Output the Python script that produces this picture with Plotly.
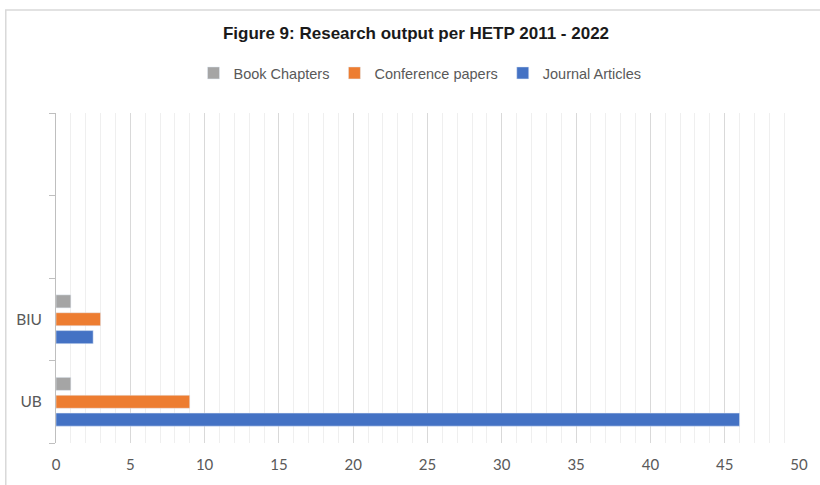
import plotly.graph_objects as go

# Research output per HETP, 2011 - 2022
categories = ["UB", "BIU"]
book_chapters = [1, 1]
conference_papers = [9, 3]
journal_articles = [46, 2.5]

x_ticks = [0, 5, 10, 15, 20, 25, 30, 35, 40, 45, 50]

cat_pos = list(range(len(categories)))

fig = go.Figure()
# first trace sits at the bottom of each group
fig.add_trace(go.Bar(y=cat_pos, x=journal_articles, name="Journal Articles",
                     orientation="h", marker_color="#4472C4"))
fig.add_trace(go.Bar(y=cat_pos, x=conference_papers, name="Conference papers",
                     orientation="h", marker_color="#ED7D31"))
fig.add_trace(go.Bar(y=cat_pos, x=book_chapters, name="Book Chapters",
                     orientation="h", marker_color="#A5A5A5"))

L, R, T, B = 56, 17, 113, 40
W, H = 820, 485
pw, ph = W - L - R, H - T - B

fig.update_layout(
    width=W, height=H,
    margin=dict(l=L, r=R, t=T, b=B),
    paper_bgcolor="white", plot_bgcolor="white",
    barmode="group", bargap=0.35, bargroupgap=0.27,
    title=dict(text="<b>Figure 9: Research output per HETP 2011 - 2022</b>",
               x=0.5 + 6 / W, xanchor="center", xref="container", y=1 - 33 / H, yanchor="middle",
               font=dict(family="Liberation Sans, Arial", size=17, color="#1a1a1a")),
    legend=dict(orientation="h", x=0.5 + 10 / W, xanchor="center", xref="container",
                y=1 - 73 / H, yanchor="middle", yref="container",
                traceorder="reversed", itemwidth=30,
                font=dict(family="Liberation Sans, Arial", size=14.5, color="#595959")),
    xaxis=dict(range=[0, 50], tickvals=x_ticks, showline=False, zeroline=False,
               showgrid=True, gridcolor="#d9d9d9", gridwidth=1,
               minor=dict(dtick=1, showgrid=True, gridcolor="#efefef", gridwidth=1),
               ticks="", ticklabelstandoff=11,
               tickfont=dict(family="Lato, Liberation Sans", size=15, color="#595959")),
    yaxis=dict(range=[-0.5, 3.5], tickvals=cat_pos, ticktext=categories,
               showline=True, linecolor="#bfbfbf", linewidth=1,
               showgrid=False, zeroline=False, ticks="", ticklabelstandoff=10,
               minor=dict(tick0=-0.5, dtick=1, ticks="outside", ticklen=6,
                          tickcolor="#bfbfbf", showgrid=False),
               tickfont=dict(family="Lato, Liberation Sans", size=15.5, color="#595959")),
    shapes=[dict(type="rect", xref="paper", yref="paper",
                 x0=-(L - 5.5) / pw, x1=1 + (R + 10) / pw,
                 y0=-(B + 10) / ph, y1=1 + (T - 9.5) / ph,
                 line=dict(color="#d9d9d9", width=1.5), fillcolor="rgba(0,0,0,0)",
                 layer="below")],
    showlegend=True,
)

fig.write_html("out.html")
